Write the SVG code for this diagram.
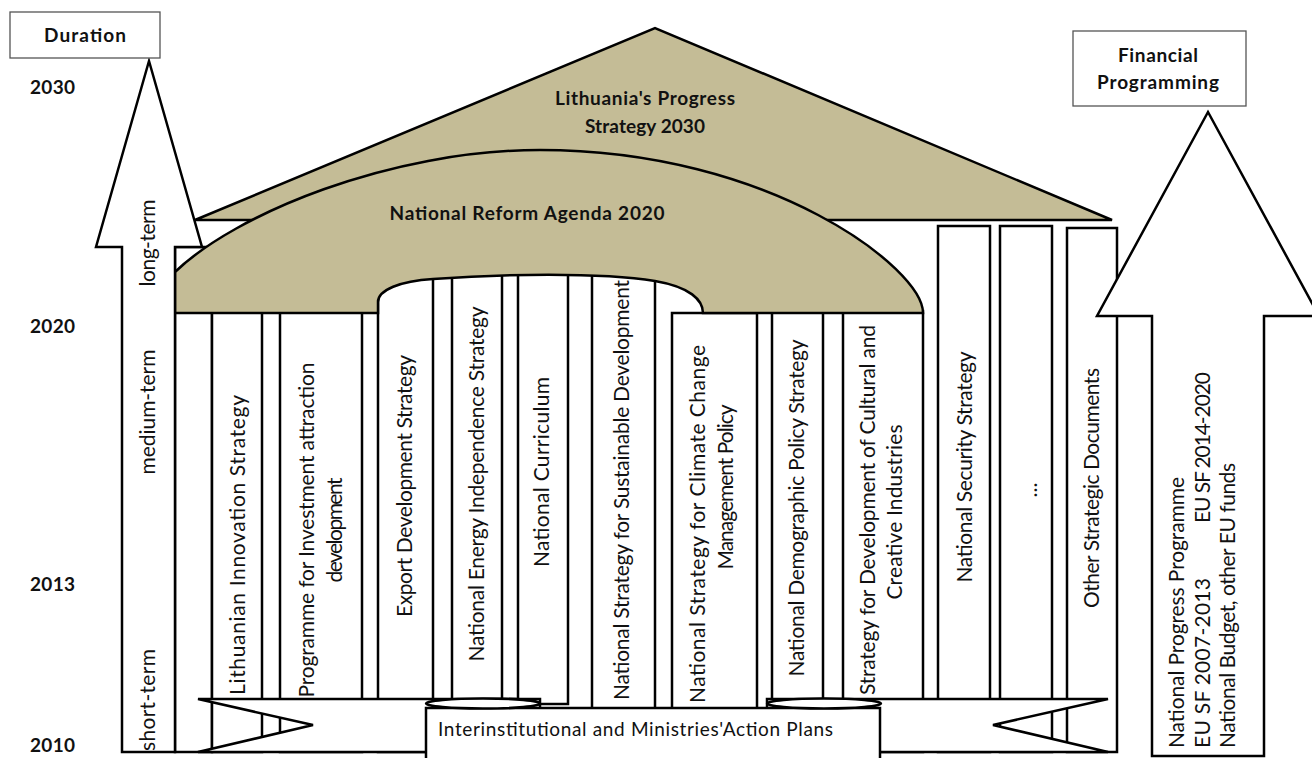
<svg xmlns="http://www.w3.org/2000/svg" width="1312" height="758" viewBox="0 0 1312 758">
<style>
.ln{stroke:#000;stroke-width:2.5;fill:#fff;stroke-linejoin:miter}
.tan{fill:#C4BC96;stroke:#000;stroke-width:2.5;stroke-linejoin:miter}
.box{fill:#fff;stroke:#555;stroke-width:1.3}
text{font-family:Lato,"Liberation Sans",sans-serif;fill:#111}
.b{font-weight:bold;font-size:19px}
.c{font-size:21px}
.n{font-size:19px}
</style>
<rect width="1312" height="758" fill="#fff"/>

<g id="roof">
<polygon class="tan" points="195,220 655,28 1112,220"/>
<text class="b" x="645" y="105" text-anchor="middle" textLength="180">Lithuania's Progress</text>
<text class="b" x="645" y="133" text-anchor="middle" textLength="120">Strategy 2030</text>
</g>

<g id="columns">
<rect class="ln" x="175" y="247" width="37" height="505"/>
<g id="col-innovation"><rect class="ln" x="212" y="305" width="50" height="447"/>
<text class="c" transform="translate(245,545) rotate(-90)" text-anchor="middle" textLength="300">Lithuanian Innovation Strategy</text></g>
<g id="col-investment"><rect class="ln" x="280" y="305" width="82" height="447"/>
<text class="c" transform="translate(314,530) rotate(-90)" text-anchor="middle" textLength="335">Programme for Investment attraction</text>
<text class="c" transform="translate(342,530) rotate(-90)" text-anchor="middle" textLength="105">development</text></g>
<g id="col-export"><rect class="ln" x="378" y="270" width="55" height="482"/>
<text class="c" transform="translate(412,486) rotate(-90)" text-anchor="middle" textLength="262">Export Development Strategy</text></g>
<g id="col-energy"><rect class="ln" x="452" y="270" width="50" height="482"/>
<text class="c" transform="translate(484,484) rotate(-90)" text-anchor="middle" textLength="355">National Energy Independence Strategy</text></g>
<g id="col-curriculum"><rect class="ln" x="518" y="270" width="50" height="434"/>
<text class="c" transform="translate(549,472) rotate(-90)" text-anchor="middle" textLength="190">National Curriculum</text></g>
<g id="col-sustainable"><rect class="ln" x="592" y="270" width="63" height="482"/>
<text class="c" transform="translate(629,490) rotate(-90)" text-anchor="middle" textLength="420">National Strategy for Sustainable Development</text></g>
<g id="col-climate"><rect class="ln" x="672" y="313" width="85" height="439"/>
<text class="c" transform="translate(705,524) rotate(-90)" text-anchor="middle" textLength="358">National Strategy for Climate Change</text>
<text class="c" transform="translate(733,487) rotate(-90)" text-anchor="middle" textLength="165">Management Policy</text></g>
<g id="col-demographic"><rect class="ln" x="772" y="308" width="51" height="444"/>
<text class="c" transform="translate(804,508) rotate(-90)" text-anchor="middle" textLength="337">National Demographic Policy Strategy</text></g>
<g id="col-cultural"><rect class="ln" x="843" y="311" width="80" height="441"/>
<text class="c" transform="translate(875,510) rotate(-90)" text-anchor="middle" textLength="370">Strategy for Development of  Cultural and</text>
<text class="c" transform="translate(902,512) rotate(-90)" text-anchor="middle" textLength="175">Creative Industries</text></g>
<g id="col-security"><rect class="ln" x="938" y="226" width="52" height="526"/>
<text class="c" transform="translate(972,467) rotate(-90)" text-anchor="middle" textLength="231">National Security Strategy</text></g>
<g id="col-etc"><rect class="ln" x="1000" y="226" width="52" height="526"/>
<text class="c" transform="translate(1037,490) rotate(-90)" text-anchor="middle">...</text></g>
<g id="col-other"><rect class="ln" x="1067" y="228" width="50" height="524"/>
<text class="c" transform="translate(1099,488) rotate(-90)" text-anchor="middle" textLength="240">Other Strategic Documents</text></g>
</g>

<g id="arch">
<path class="tan" d="M175,313 L175,272 C235,214 390,150 540,150 C771,150 923,269 923,313 L703,313 C703,300 690,287 655,281 C600,272 500,274 433,279 C400,281 378,290 378,302 L378,313 Z"/>
<text class="b" x="527" y="220" text-anchor="middle" textLength="275">National Reform Agenda 2020</text>
</g>

<g id="action-plans">
<polygon class="ln" points="198,699 540,699 540,752 198,752 313,725"/>
<polygon class="ln" points="767,699 1108,699 993,725 1108,752 767,752"/>
<rect class="ln" x="426" y="708" width="454" height="70"/>
<ellipse class="ln" cx="483" cy="703.5" rx="57" ry="5"/>
<ellipse class="ln" cx="824" cy="703.5" rx="57" ry="5"/>
<text class="n" x="438" y="736" textLength="395">Interinstitutional and Ministries'Action Plans</text>
</g>

<g id="duration-arrow">
<polygon class="ln" points="149,61 202,247 175,247 175,752 122,752 122,247 96,247"/>
<text class="c" transform="translate(155,243) rotate(-90)" text-anchor="middle" textLength="87">long-term</text>
<text class="c" transform="translate(155,412) rotate(-90)" text-anchor="middle" textLength="125">medium-term</text>
<text class="c" transform="translate(155,700) rotate(-90)" text-anchor="middle" textLength="102">short-term</text>
</g>

<g id="finance-arrow">
<polygon class="ln" points="1208,112 1319,316 1264,316 1264,756 1152,756 1152,316 1097,316"/>
<text class="c" transform="translate(1184,748) rotate(-90)" textLength="271">National Progress Programme</text>
<text class="c" transform="translate(1210,748) rotate(-90)" textLength="170">EU SF 2007-2013</text>
<text class="c" transform="translate(1210,523) rotate(-90)" textLength="151">EU SF 2014-2020</text>
<text class="c" transform="translate(1235,748) rotate(-90)" textLength="285">National Budget, other EU funds</text>
</g>

<g id="duration">
<rect class="box" x="10" y="12" width="150" height="46"/>
<text class="b" x="85" y="42" text-anchor="middle" textLength="82">Duration</text>
</g>
<g id="financial">
<rect class="box" x="1073" y="31" width="173" height="75"/>
<text class="b" x="1158" y="62" text-anchor="middle" textLength="80">Financial</text>
<text class="b" x="1158" y="89" text-anchor="middle" textLength="122">Programming</text>
</g>
<g id="years">
<text class="b" x="30" y="94" textLength="45">2030</text>
<text class="b" x="30" y="333" textLength="45">2020</text>
<text class="b" x="30" y="591" textLength="45">2013</text>
<text class="b" x="30" y="752" textLength="45">2010</text>
</g>
</svg>
